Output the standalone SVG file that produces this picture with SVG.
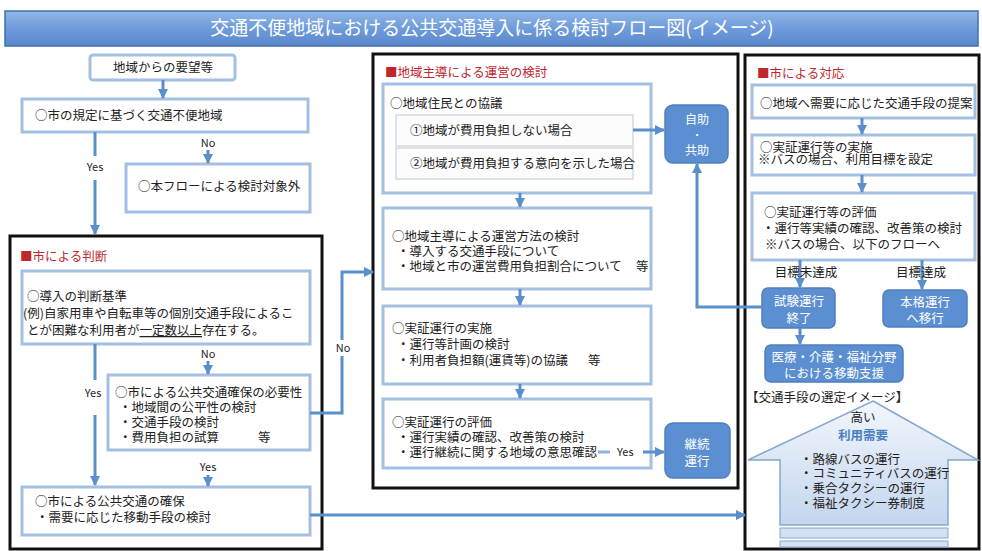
<svg xmlns="http://www.w3.org/2000/svg" width="982" height="551" viewBox="0 0 982 551">
<defs>
<linearGradient id="tg" x1="0" y1="0" x2="0" y2="1"><stop offset="0" stop-color="#93b8e6"/><stop offset="0.5" stop-color="#6d9bdb"/><stop offset="1" stop-color="#5a88cc"/></linearGradient>
<linearGradient id="hg" x1="0" y1="0" x2="0" y2="1"><stop offset="0" stop-color="#f2f6fc"/><stop offset="1" stop-color="#c3d6ee"/></linearGradient>
<marker id="ah" viewBox="0 0 10 10" refX="9" refY="5" markerWidth="10" markerHeight="10" markerUnits="userSpaceOnUse" orient="auto"><path d="M0,0 L10,5 L0,10 z" fill="#5b8fcc"/></marker>
</defs>
<style>
text{font-family:"Noto Sans CJK JP","Noto Sans",sans-serif;font-size:12.5px;fill:#222}
.box{fill:#fff;stroke:#a3c0e3;stroke-width:3}
.sub{fill:#fcfcfc;stroke:#c9d0d8;stroke-width:1.2}
.frame{fill:#fff;stroke:#111;stroke-width:3}
.blue{fill:#5b8fd2;stroke:#4d7fc0;stroke-width:1.5}
.wt{fill:#fff;text-anchor:middle}
.hd{fill:#c0272d}
.lbl{font-size:11px;text-anchor:middle}
.c{fill:none;stroke:#5b8fcc;stroke-width:3}
.ca{fill:none;stroke:#5b8fcc;stroke-width:3;marker-end:url(#ah)}
.mid{text-anchor:middle}
</style>
<rect width="982" height="551" fill="#fff"/>
<g id="title">
<rect x="5" y="11" width="973" height="35" fill="url(#tg)" stroke="#3f6fae" stroke-width="1.5"/>
<text x="492" y="35" text-anchor="middle" style="font-size:19px;fill:#fff">交通不便地域における公共交通導入に係る検討フロー図(イメージ)</text>
</g>
<g id="frames">
<rect class="frame" x="10" y="236" width="312" height="313"/>
<rect class="frame" x="373" y="54" width="365" height="434"/>
<rect class="frame" x="745" y="55" width="234" height="494"/>
</g>
<g id="n-request"><rect class="box" x="90" y="55" width="145" height="25" rx="3"/><text class="mid" x="163" y="72">地域からの要望等</text></g>
<g id="n-area"><rect class="box" x="22" y="99" width="286" height="33"/><text x="35" y="120">○市の規定に基づく交通不便地域</text></g>
<g id="n-out"><rect class="box" x="126" y="164" width="184" height="48"/><text x="138" y="191">○本フローによる検討対象外</text></g>
<g id="n-judge-head"><text class="hd" x="20" y="261">■市による判断</text></g>
<g id="n-criteria"><rect class="box" x="22" y="271" width="288" height="73"/>
<text x="27" y="301">○導入の判断基準</text>
<text x="23" y="318">(例)自家用車や自転車等の個別交通手段によるこ</text>
<text x="27" y="335">とが困難な利用者が<tspan text-decoration="underline">一定数以上</tspan>存在する。</text></g>
<g id="n-need"><rect class="box" x="108" y="375" width="202" height="75"/>
<text x="115" y="397">○市による公共交通確保の必要性</text>
<text x="119" y="412">・地域間の公平性の検討</text>
<text x="119" y="427">・交通手段の検討</text>
<text x="119" y="442">・費用負担の試算</text><text x="258" y="442">等</text></g>
<g id="n-secure"><rect class="box" x="22" y="487" width="288" height="48"/>
<text x="35" y="506">○市による公共交通の確保</text>
<text x="36" y="522">・需要に応じた移動手段の検討</text></g>

<g id="n-mid-head"><text class="hd" x="385" y="77">■地域主導による運営の検討</text></g>
<g id="n-consult"><rect class="box" x="383" y="84" width="268" height="109"/>
<text x="390" y="108">○地域住民との協議</text>
<rect class="sub" x="396" y="115" width="237" height="31"/><text x="410" y="135">①地域が費用負担しない場合</text>
<rect class="sub" x="396" y="148" width="237" height="31"/><text x="410" y="168">②地域が費用負担する意向を示した場合</text></g>
<g id="n-selfhelp"><rect class="blue" x="665" y="105" width="63" height="58" rx="8"/>
<text class="wt" x="697" y="124" style="font-size:12px">自助</text><text class="wt" x="697" y="139" style="font-size:10px">・</text><text class="wt" x="697" y="155" style="font-size:12px">共助</text></g>
<g id="n-method"><rect class="box" x="383" y="208" width="268" height="81"/>
<text x="392" y="241">○地域主導による運営方法の検討</text>
<text x="397" y="256">・導入する交通手段について</text>
<text x="397" y="271">・地域と市の運営費用負担割合について</text><text x="636" y="271">等</text></g>
<g id="n-trial"><rect class="box" x="383" y="306" width="268" height="78"/>
<text x="392" y="333">○実証運行の実施</text>
<text x="397" y="349">・運行等計画の検討</text>
<text x="397" y="365">・利用者負担額(運賃等)の協議</text><text x="588" y="365">等</text></g>
<g id="n-eval"><rect class="box" x="383" y="399" width="268" height="69"/>
<text x="392" y="427">○実証運行の評価</text>
<text x="397" y="442">・運行実績の確認、改善策の検討</text>
<text x="397" y="457">・運行継続に関する地域の意思確認</text></g>
<g id="n-continue"><rect class="blue" x="665" y="423" width="65" height="55" rx="8"/>
<text class="wt" x="697" y="449">継続</text><text class="wt" x="697" y="466">運行</text></g>

<g id="n-right-head"><text class="hd" x="757" y="78">■市による対応</text></g>
<g id="n-propose"><rect class="box" x="752" y="85" width="223" height="33"/><text x="760" y="108">○地域へ需要に応じた交通手段の提案</text></g>
<g id="n-rtrial"><rect class="box" x="752" y="135" width="223" height="40"/>
<text x="760" y="152">○実証運行等の実施</text><text x="758" y="164">※バスの場合、利用目標を設定</text></g>
<g id="n-reval"><rect class="box" x="752" y="193" width="223" height="67"/>
<text x="764" y="217">○実証運行等の評価</text>
<text x="762" y="233">・運行等実績の確認、改善策の検討</text>
<text x="765" y="249">※バスの場合、以下のフローへ</text></g>
<g id="n-end"><rect class="blue" x="762" y="288" width="73" height="40" rx="6"/>
<text class="wt" x="799" y="306">試験運行</text><text class="wt" x="799" y="323">終了</text></g>
<g id="n-full"><rect class="blue" x="883" y="290" width="84" height="37" rx="6"/>
<text class="wt" x="925" y="307">本格運行</text><text class="wt" x="925" y="323">へ移行</text></g>
<g id="n-medical"><rect class="blue" x="765" y="345" width="138" height="37" rx="6"/>
<text class="wt" x="834" y="362">医療・介護・福祉分野</text><text class="wt" x="834" y="378">における移動支援</text></g>
<g id="n-image">
<polygon points="873,401 978,460 948,460 948,525 780,525 780,460 748,460" fill="url(#hg)" stroke="#86a6ce" stroke-width="1.5"/>
<rect x="780" y="528" width="168" height="10" fill="#d3e1f2" stroke="#86a6ce" stroke-width="1"/>
<rect x="780" y="541" width="168" height="6" fill="#d3e1f2" stroke="#86a6ce" stroke-width="1"/>
<text x="746" y="402">【交通手段の選定イメージ】</text>
<text class="mid" x="863" y="422">高い</text>
<text class="mid" x="863" y="440" style="fill:#4a80c4;font-weight:bold">利用需要</text>
<text x="800" y="464">・路線バスの運行</text>
<text x="800" y="478">・コミュニティバスの運行</text>
<text x="800" y="493">・乗合タクシーの運行</text>
<text x="800" y="508">・福祉タクシー券制度</text>
</g>

<g id="connectors">
<path class="ca" d="M163 80 V98"/>
<path class="c" d="M95 132 V156"/>
<path class="ca" d="M95 180 V234"/>
<text class="lbl" x="95" y="171">Yes</text>
<path class="ca" d="M208 150 V163"/>
<text class="lbl" x="208" y="147">No</text>
<path class="c" d="M95 344 V380"/>
<path class="ca" d="M95 415 V485"/>
<text class="lbl" x="93" y="397">Yes</text>
<path class="ca" d="M208 361 V374"/>
<text class="lbl" x="208" y="358">No</text>
<path class="ca" d="M208 475 V486"/>
<text class="lbl" x="208" y="471">Yes</text>
<path class="c" d="M310 413 H342 V356"/>
<path class="ca" d="M342 340 V272 H373"/>
<text class="lbl" x="343" y="352">No</text>
<path class="ca" d="M310 515 H745"/>
<path class="ca" d="M633 130 H664"/>
<path class="ca" d="M520 193 V207"/>
<path class="ca" d="M520 289 V305"/>
<path class="ca" d="M520 384 V398"/>
<path d="M598 452 H610" stroke="#8fb3dd" stroke-width="3"/>
<text x="617" y="456" style="font-size:11px">Yes</text>
<path class="ca" d="M643 452 H664"/>
<path class="ca" d="M762 307 H697 V164"/>
<path class="ca" d="M862 118 V134"/>
<path class="ca" d="M862 175 V192"/>
<path class="ca" d="M800 260 V287"/>
<path class="ca" d="M922 260 V289"/>
<path class="ca" d="M800 328 V344"/>
<text class="mid" x="806" y="277">目標未達成</text>
<text class="mid" x="921" y="277">目標達成</text>
</g>
</svg>
